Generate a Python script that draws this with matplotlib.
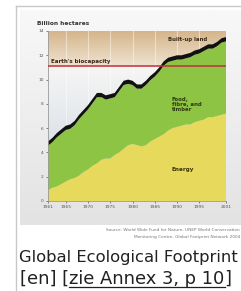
import numpy as np
import matplotlib
matplotlib.use("Agg")
import matplotlib.pyplot as plt
from matplotlib.lines import Line2D

years = list(range(1961, 2002))
energy = [0.9, 1.1, 1.2, 1.4, 1.6, 1.8, 1.9, 2.1, 2.4, 2.6, 2.9, 3.1, 3.4, 3.5, 3.5,
          3.8, 4.0, 4.3, 4.6, 4.7, 4.6, 4.5, 4.6, 4.9, 5.1, 5.3, 5.5, 5.8, 6.0, 6.1,
          6.2, 6.3, 6.3, 6.5, 6.6, 6.7, 6.9, 6.9, 7.0, 7.1, 7.2]
food_fibre_timber = [3.65, 3.75, 4.05, 4.15, 4.25, 4.15, 4.35, 4.65, 4.75, 4.95, 5.15, 5.45,
                     5.15, 4.85, 4.95, 4.75, 5.05, 5.25, 5.05, 4.85, 4.65, 4.75, 4.95, 5.05,
                     5.15, 5.35, 5.65, 5.65, 5.55, 5.55, 5.45, 5.45, 5.55, 5.55, 5.55, 5.65,
                     5.65, 5.65, 5.75, 5.95, 5.95]
built_up_land = [0.35] * 41
biocapacity = 11.1
yticks = [0, 2, 4, 6, 8, 10, 12, 14]
xticks = [1961, 1965, 1970, 1975, 1980, 1985, 1990, 1995, 2001]

W, H = 241, 291
fig = plt.figure(figsize=(W / 100, H / 100), dpi=100)
fig.patch.set_facecolor("white")

def fx(px):
    return px / W

def fy(py):
    return 1 - py / H

grad = np.linspace(0, 1, 100).reshape(-1, 1)
cm = matplotlib.colors.LinearSegmentedColormap.from_list

# frame + image background
bg = fig.add_axes([0, 0, 1, 1], zorder=-5)
bg.imshow(grad, cmap=cm("g", ["#f8f8f8", "#e3e3e3"]), origin="upper",
          extent=[20, 241, 225, 10], aspect="auto", zorder=0)
bg.plot([15.5, 15.5], [5.5, 291], color="#c8c8c8", lw=1.0)
bg.plot([15.5, 241], [5.5, 5.5], color="#c8c8c8", lw=1.0)
bg.set_xlim(0, W)
bg.set_ylim(H, 0)
bg.axis("off")

ax = fig.add_axes([fx(48), fy(201), fx(226) - fx(48), fy(31) - fy(201)])

ax.imshow(grad, cmap=cm("t", ["#efe3cf", "#d4b48a"]), origin="lower",
          extent=[1961, 2001, biocapacity, 14], aspect="auto", zorder=0)
ax.imshow(grad, cmap=cm("b", ["#cbd3e1", "#f5f6f4"]), origin="lower",
          extent=[1961, 2001, 0, biocapacity], aspect="auto", zorder=0)
ax.set_xlim(1961, 2001)
ax.set_ylim(0, 14)
for xt in xticks[1:-1]:
    ax.axvline(xt, color="white", lw=0.8, alpha=0.45, zorder=1)

ax.stackplot(years, energy, food_fibre_timber, built_up_land,
             colors=["#e6d95c", "#8dc444", "#111111"], lw=0, zorder=2)
ax.axhline(biocapacity, color="#c0303a", lw=1.3, zorder=3, alpha=0.85)

for s in ["top", "right"]:
    ax.spines[s].set_visible(False)
for s in ["left", "bottom"]:
    ax.spines[s].set_color("#9a9a9a")
    ax.spines[s].set_linewidth(0.6)
ax.set_yticks(yticks)
ax.set_xticks(xticks)
ax.tick_params(labelsize=3.2, colors="#555555", length=1.5, width=0.5, pad=1.5)

ax.text(0.015, biocapacity + 0.25, "Earth's biocapacity", fontsize=4, color="#3a2418",
        fontweight="bold", transform=ax.get_yaxis_transform(), zorder=4)
ax.text(1988.0, 13.3, "Built-up land", fontsize=3.9, color="#3a2a1a", fontweight="bold",
        va="center", zorder=4)
ax.text(1988.8, 7.4, "Food,\nfibre, and\ntimber", fontsize=3.9, color="#2e3a12",
        fontweight="bold", linespacing=1.0, zorder=4)
ax.text(1988.8, 2.6, "Energy", fontsize=4.1, color="#3a3408", fontweight="bold",
        va="center", zorder=4)

fig.text(fx(37), fy(25), "Billion hectares", fontsize=4.2, fontweight="bold", color="#333333",
         va="baseline")
fig.text(fx(240), fy(231), "Source: World Wide Fund for Nature, UNEP World Conservation",
         fontsize=3.1, color="#777777", ha="right", va="baseline")
fig.text(fx(240), fy(238), "Monitoring Centre, Global Footprint Network 2004",
         fontsize=3.1, color="#777777", ha="right", va="baseline")

fig.text(fx(19), fy(262), "Global Ecological Footprint", fontsize=11.8, family="DejaVu Sans",
         color="#202122", va="baseline")
cap_kw = dict(fontsize=12.9, family="DejaVu Sans", color="#202122", va="baseline")
r = fig.canvas.get_renderer()
t1 = fig.text(fx(20), fy(284), "[en] [", **cap_kw)
b1 = t1.get_window_extent(r)
t2 = fig.text(b1.x1 / W, fy(284), "zie Annex 3, p 10", **cap_kw)
b2 = t2.get_window_extent(r)
fig.text(b2.x1 / W, fy(284), "]", **cap_kw)
fig.add_artist(Line2D([b2.x0 / W, b2.x1 / W], [fy(286.5), fy(286.5)], color="#202122", lw=0.9))

fig.savefig("out.png", dpi=100)
